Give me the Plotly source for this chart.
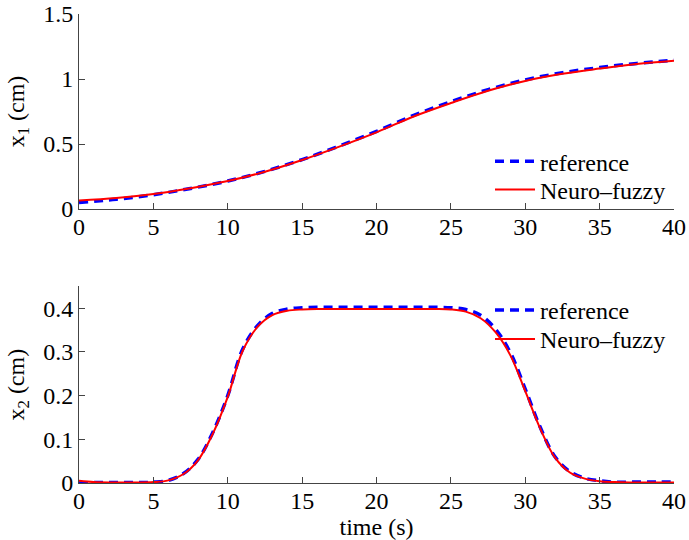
import plotly.graph_objects as go

# Time samples (s)
t1 = [0, 2.5, 5, 7.5, 10, 12.5, 15, 17.5, 20, 22.5, 25, 27.5, 30, 32.5, 35, 37.5, 40]
x1_ref = [0.050, 0.075, 0.110, 0.158, 0.215, 0.290, 0.380, 0.485, 0.597, 0.720,
          0.825, 0.918, 0.993, 1.048, 1.088, 1.120, 1.145]
x1_nf = [0.065, 0.085, 0.115, 0.160, 0.215, 0.287, 0.377, 0.480, 0.590, 0.712,
         0.815, 0.910, 0.985, 1.040, 1.080, 1.115, 1.140]

t2 = list(range(0, 41))
x2_ref = [0.000, 0.001, 0.001, 0.001, 0.001, 0.002, 0.006, 0.021, 0.054, 0.116,
          0.200, 0.306, 0.360, 0.388, 0.398, 0.401, 0.402, 0.402, 0.402, 0.402,
          0.402, 0.402, 0.402, 0.402, 0.402, 0.401, 0.397, 0.384, 0.352, 0.298,
          0.215, 0.128, 0.060, 0.026, 0.011, 0.005, 0.002, 0.002, 0.002, 0.002, 0.002]
x2_nf = [0.005, 0.002, 0.001, 0.001, 0.001, 0.002, 0.006, 0.020, 0.052, 0.113,
         0.197, 0.302, 0.357, 0.384, 0.394, 0.397, 0.398, 0.398, 0.398, 0.398,
         0.398, 0.398, 0.398, 0.398, 0.398, 0.397, 0.392, 0.377, 0.345, 0.292,
         0.210, 0.125, 0.058, 0.024, 0.010, 0.004, 0.002, 0.001, 0.001, 0.001, 0.001]

x_ticks = [0, 5, 10, 15, 20, 25, 30, 35, 40]
y1_ticks = [0, 0.5, 1, 1.5]
y2_ticks = [0, 0.1, 0.2, 0.3, 0.4]

FONT = "Liberation Serif"
FS = 24
BLUE = "#0000ff"
RED = "#ff0000"
AXC = "#444444"

W, H = 689, 540

fig = go.Figure()

ref_line = dict(color=BLUE, width=3.5, dash="9px,6px")
nf_line = dict(color=RED, width=2)

# one legend box per entry so the rows sit close together
fig.add_trace(go.Scatter(x=t1, y=x1_ref, mode="lines", name="reference", line=ref_line,
                         line_shape="spline", xaxis="x", yaxis="y", legend="legend"))
fig.add_trace(go.Scatter(x=t1, y=x1_nf, mode="lines", name="Neuro\u2013fuzzy", line=nf_line,
                         line_shape="spline", xaxis="x", yaxis="y", legend="legend3"))
fig.add_trace(go.Scatter(x=t2, y=x2_ref, mode="lines", name="reference", line=ref_line,
                         line_shape="spline", xaxis="x2", yaxis="y2", legend="legend2"))
fig.add_trace(go.Scatter(x=t2, y=x2_nf, mode="lines", name="Neuro\u2013fuzzy", line=nf_line,
                         line_shape="spline", xaxis="x2", yaxis="y2", legend="legend4"))

axis_common = dict(
    showline=True, linecolor=AXC, linewidth=1, mirror=False,
    ticks="inside", ticklen=6, tickcolor=AXC, tickwidth=1,
    showgrid=False, zeroline=False, automargin=False,
    tickfont=dict(family=FONT, size=FS, color="black"),
)


def legend_box(ycenter_px):
    return dict(x=490 / W, y=1 - ycenter_px / H, xref="container", yref="container",
                xanchor="left", yanchor="middle", bgcolor="rgba(0,0,0,0)",
                font=dict(family=FONT, size=FS), itemwidth=40, tracegroupgap=0)


fig.update_layout(
    width=W, height=H,
    showlegend=True,
    margin=dict(l=79, r=15, t=14, b=57, autoexpand=False),
    paper_bgcolor="white", plot_bgcolor="white",
    font=dict(family=FONT, size=FS, color="black"),
    xaxis=dict(domain=[0, 1], anchor="y", range=[0, 40], tickvals=x_ticks,
               ticklabelstandoff=-4, **axis_common),
    yaxis=dict(domain=[0.5842, 1], anchor="x", range=[0, 1.5], tickvals=y1_ticks,
               ticktext=["0", "0.5", "1", "1.5"],
               title=dict(text="x<sub>1</sub> (cm)", font=dict(family=FONT, size=FS), standoff=11),
               **axis_common),
    xaxis2=dict(domain=[0, 1], anchor="y2", range=[0, 40], tickvals=x_ticks,
                ticklabelstandoff=-4,
                title=dict(text="time (s)", font=dict(family=FONT, size=FS), standoff=0),
                **axis_common),
    yaxis2=dict(domain=[0, 0.4194], anchor="x2", range=[0, 0.45], tickvals=y2_ticks,
                ticktext=["0", "0.1", "0.2", "0.3", "0.4"],
                title=dict(text="x<sub>2</sub> (cm)", font=dict(family=FONT, size=FS), standoff=11),
                **axis_common),
    legend=legend_box(161.7),
    legend3=legend_box(190.0),
    legend2=legend_box(310.3),
    legend4=legend_box(339.3),
)

fig.write_html("out.html")
